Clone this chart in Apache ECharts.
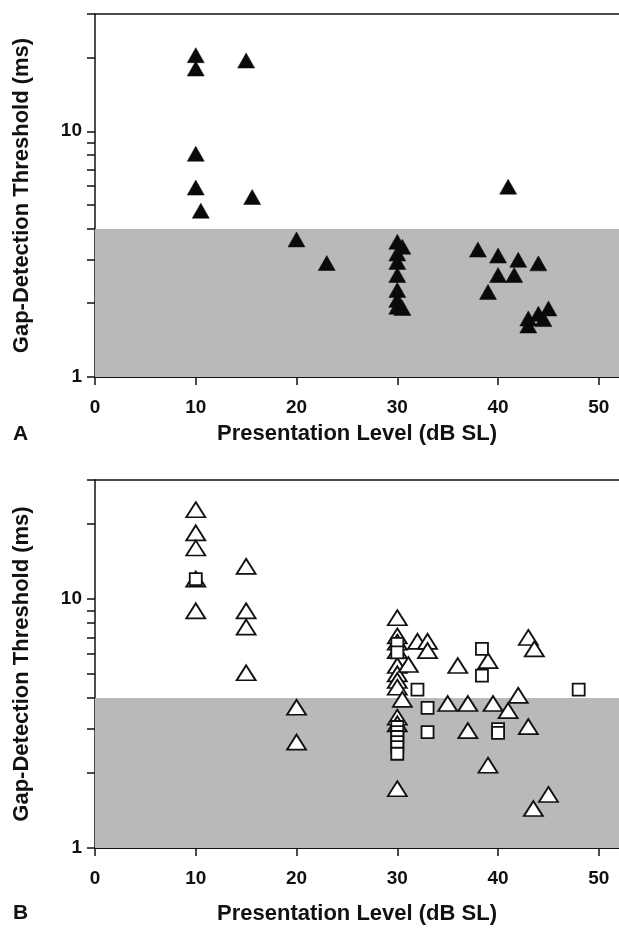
<!DOCTYPE html>
<html>
<head>
<meta charset="utf-8">
<script src="https://cdn.jsdelivr.net/npm/echarts@6/dist/echarts.min.js"></script>
<style>
html,body{margin:0;padding:0;background:#fff;}
#c{width:619px;height:941px;}
</style>
</head>
<body>
<div id="c"></div>
<script>
// ---- Data ----
// Panel A: filled triangles
const levelsA = [10, 10, 15, 10, 10, 15.6, 10.5, 41, 20, 23,
  30, 30.5, 30, 30, 30, 30, 30, 30, 30.5,
  38, 40, 42, 44, 40, 41.6, 39, 45, 44, 43, 44.5, 43];
const thresholdsA = [20.4, 18.0, 19.4, 8.1, 5.9, 5.4, 4.75, 5.95, 3.63, 2.91,
  3.55, 3.39, 3.18, 2.94, 2.60, 2.26, 2.06, 1.93, 1.91,
  3.3, 3.12, 3.0, 2.9, 2.6, 2.6, 2.22, 1.9, 1.81, 1.73, 1.72, 1.62];

// Panel B: open triangles
const levelsBTri = [10, 10, 10, 10, 10, 15, 15, 15, 15, 20, 20,
  30, 30, 30, 30, 30, 30, 30, 30, 30, 30, 30, 30.5, 31.1, 32, 33, 33,
  36, 39, 43, 43.6, 35, 37, 39.5, 42, 41, 37, 43, 39, 45, 43.5];
const thresholdsBTri = [22.8, 18.4, 16.0, 12.0, 8.95, 13.5, 8.95, 7.7, 5.05, 3.67, 2.66,
  8.4, 7.1, 6.7, 6.2, 5.4, 5.0, 4.7, 4.42, 3.35, 3.15, 1.73, 3.95, 5.45, 6.75, 6.75, 6.2,
  5.4, 5.65, 7.0, 6.3, 3.8, 3.8, 3.8, 4.1, 3.56, 2.96, 3.07, 2.15, 1.64, 1.44];

// Panel B: open squares
const levelsBSq = [10, 30, 30, 32, 33, 33, 38.4, 38.4, 40, 40, 48,
  30, 30, 30, 30, 30, 30];
const thresholdsBSq = [12.0, 6.6, 6.1, 4.32, 3.65, 2.92, 6.3, 4.92, 3.0, 2.9, 4.32,
  3.06, 2.92, 2.79, 2.66, 2.54, 2.39];

// Axes
const xTickValues = [0, 10, 20, 30, 40, 50];
const yLabelValues = [1, 10];
const yTickValues = [1, 2, 3, 4, 5, 6, 7, 8, 9, 10, 20, 30];
const normalBand = [1, 4];
const xTitle = 'Presentation Level (dB SL)';
const yTitle = 'Gap-Detection Threshold (ms)';
const panelLabels = ['A', 'B'];

const pairs = (xs, ys) => xs.map((x, i) => [x, ys[i]]);

const FONT = 'Liberation Sans';
const grids = [
  {left: 95, top: 14, width: 524, height: 363},
  {left: 95, top: 480, width: 524, height: 368}
];
const xNameGaps = [46, 55];

function xAxisFor(i) {
  return {
    type: 'value', gridIndex: i, min: 0, max: 52, interval: 10,
    name: xTitle, nameLocation: 'middle', nameGap: xNameGaps[i],
    nameTextStyle: {fontFamily: FONT, fontWeight: 'bold', fontSize: 22, color: '#111'},
    axisLine: {show: true, lineStyle: {color: '#111', width: 2}},
    axisTick: {show: true, customValues: xTickValues, length: 8, lineStyle: {color: '#111', width: 1.5}},
    axisLabel: {customValues: xTickValues, margin: 21, fontFamily: FONT, fontWeight: 'bold', fontSize: 19, color: '#111'},
    splitLine: {show: false}
  };
}
function topAxisFor(i) {
  return {
    type: 'value', gridIndex: i, position: 'top', min: 0, max: 52,
    axisLine: {show: true, onZero: false, lineStyle: {color: '#111', width: 1.5}},
    axisTick: {show: false}, axisLabel: {show: false}, splitLine: {show: false}
  };
}
function yAxisFor(i) {
  return {
    type: 'log', logBase: 10, gridIndex: i, min: 1, max: 30,
    name: yTitle, nameLocation: 'middle', nameGap: 62,
    nameTextStyle: {fontFamily: FONT, fontWeight: 'bold', fontSize: 22, color: '#111'},
    axisLine: {show: true, onZero: false, lineStyle: {color: '#111', width: 1.5}},
    axisTick: {show: true, customValues: yTickValues, length: 8, lineStyle: {color: '#111', width: 1.5}},
    axisLabel: {customValues: yLabelValues, margin: 13, fontFamily: FONT, fontWeight: 'bold', fontSize: 19, color: '#111'},
    splitLine: {show: false}
  };
}

const band = {
  silent: true,
  itemStyle: {color: '#b9b9b9'},
  data: [[{yAxis: normalBand[0]}, {yAxis: normalBand[1]}]]
};

const option = {
  backgroundColor: '#fff',
  animation: false,
  grid: grids,
  xAxis: [xAxisFor(0), xAxisFor(1), topAxisFor(0), topAxisFor(1)],
  yAxis: [yAxisFor(0), yAxisFor(1)],
  graphic: [
    {type: 'text', left: 13, top: 424, style: {text: panelLabels[0], font: 'bold 21px "Liberation Sans"', fill: '#111'}},
    {type: 'text', left: 13, top: 903, style: {text: panelLabels[1], font: 'bold 21px "Liberation Sans"', fill: '#111'}}
  ],
  series: [
    {
      type: 'scatter', xAxisIndex: 0, yAxisIndex: 0,
      symbol: 'triangle', symbolSize: [17, 15],
      itemStyle: {color: '#0a0a0a', borderColor: '#0a0a0a', borderWidth: 0.5, opacity: 1},
      data: pairs(levelsA, thresholdsA),
      markArea: band, z: 3
    },
    {
      type: 'scatter', xAxisIndex: 1, yAxisIndex: 1,
      symbol: 'triangle', symbolSize: [19, 15],
      itemStyle: {color: '#fff', borderColor: '#111', borderWidth: 1.8, opacity: 1},
      data: pairs(levelsBTri, thresholdsBTri),
      markArea: band, z: 3
    },
    {
      type: 'scatter', xAxisIndex: 1, yAxisIndex: 1,
      symbol: 'rect', symbolSize: [12, 12],
      itemStyle: {color: '#fff', borderColor: '#111', borderWidth: 1.8, opacity: 1},
      data: pairs(levelsBSq, thresholdsBSq), z: 4
    }
  ]
};

const chart = echarts.init(document.getElementById('c'), null, {renderer: 'canvas'});
chart.setOption(option);
</script>
</body>
</html>
